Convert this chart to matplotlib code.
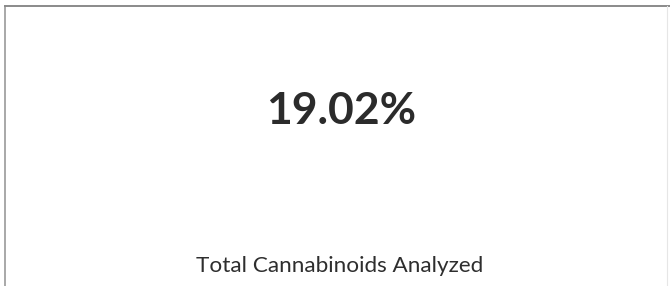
import matplotlib
matplotlib.use("Agg")
import matplotlib.pyplot as plt
from matplotlib.lines import Line2D

# card content
value = 19.02
label = "Total Cannabinoids Analyzed"

fig = plt.figure(figsize=(6.7, 2.86), dpi=100)
fig.patch.set_facecolor("white")

W, H = 670.0, 286.0

# border of the card (top and left edges show in the scan)
fig.add_artist(Line2D([5 / W, 5 / W], [0, 1 - 6 / H], transform=fig.transFigure,
                      color="#9a9a9a", lw=1.2))
fig.add_artist(Line2D([5 / W, 1.0], [1 - 6 / H, 1 - 6 / H], transform=fig.transFigure,
                      color="#8a8a8a", lw=1.4))
fig.add_artist(Line2D([667 / W, 667 / W], [0, 1 - 6 / H], transform=fig.transFigure,
                      color="#e6e6e6", lw=0.8))

fig.text(341 / W, 1 - 124 / H, f"{value:.2f}%", ha="center", va="baseline",
         fontsize=32, fontweight="bold", family="Lato", color="#2b2b2b")
fig.text(340 / W, 1 - 272 / H, label, ha="center", va="baseline",
         fontsize=16.2, family="Lato", color="#2e2e2e")

fig.savefig("out.png", dpi=100, facecolor="white")
